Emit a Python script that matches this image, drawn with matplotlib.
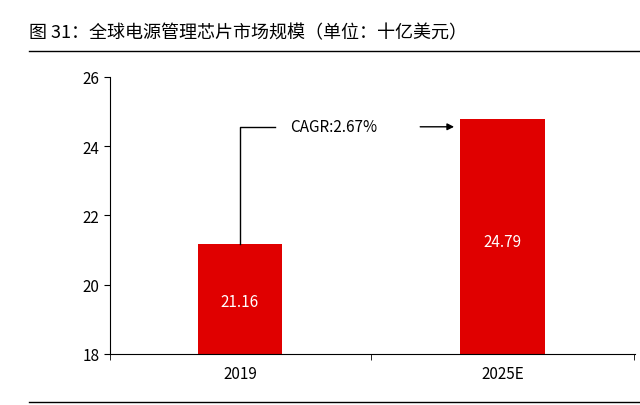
import matplotlib.pyplot as plt
from matplotlib.lines import Line2D

plt.rcParams['font.family'] = ['Noto Sans CJK SC', 'DejaVu Sans']

years = ['2019', '2025E']
values = [21.16, 24.79]
cagr = 'CAGR:2.67%'

fig = plt.figure(figsize=(6.4, 4.06), dpi=100)
ax = fig.add_axes([0.172, 0.126, 0.82, 0.682])
x = [0, 1]
ax.bar(x, values, width=0.323, color='#E00000')
for xi, v in zip(x, values):
    ax.text(xi, 18 + (v - 18) * 0.48, f'{v:.2f}', color='white', ha='center', va='center', fontsize=11)

ax.set_ylim(18, 26)
ax.set_xlim(-0.494, 1.502)
ax.set_yticks(range(18, 27, 2))
ax.set_xticks(x)
ax.set_xticklabels(years, fontsize=11)
ax.set_xticks([-0.494, 0.5, 1.5], minor=True)
ax.tick_params(axis='x', which='major', length=0, pad=8)
ax.tick_params(axis='x', which='minor', length=4, direction='out')
ax.tick_params(axis='y', labelsize=11, length=4, direction='out')
for s in ['top', 'right']:
    ax.spines[s].set_visible(False)

# CAGR annotation
yl = 24.56
ax.plot([0, 0, 0.133], [values[0], yl, yl], color='black', lw=1)
ax.text(0.19, yl, cagr, ha='left', va='center', fontsize=11)
ax.annotate('', xy=(0.825, yl), xytext=(0.675, yl),
            arrowprops=dict(arrowstyle='-|>', color='black', lw=1))

fig.text(0.045, 0.918, '图 31：全球电源管理芯片市场规模（单位：十亿美元）', fontsize=13, va='center')
fig.add_artist(Line2D([0.045, 1.0], [0.872, 0.872], color='black', lw=1))
fig.add_artist(Line2D([0.045, 1.0], [0.007, 0.007], color='black', lw=1))

fig.savefig('out.png', dpi=100)
